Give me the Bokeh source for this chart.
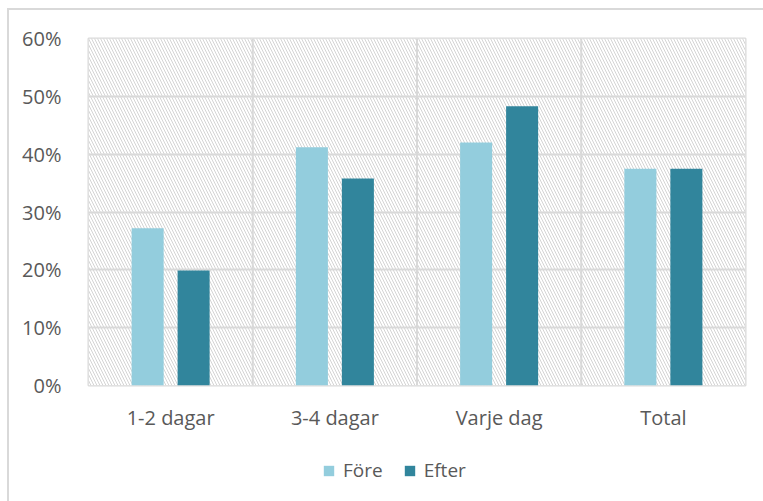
from bokeh.plotting import figure
from bokeh.layouts import column
from bokeh.models import (FactorRange, Range1d, NumeralTickFormatter, FixedTicker,
                          BoxAnnotation, Span, Legend, LegendItem, ColumnDataSource)
from bokeh.transform import dodge
from bokeh.embed import file_html
from bokeh.resources import INLINE

# Andel per kategori, före och efter
categories = ["1-2 dagar", "3-4 dagar", "Varje dag", "Total"]
fore = [0.272, 0.412, 0.420, 0.375]
efter = [0.199, 0.358, 0.483, 0.375]
series_names = ["Före", "Efter"]
y_ticks = [0.0, 0.1, 0.2, 0.3, 0.4, 0.5, 0.6]

FORE_COLOR = "#93CDDD"
EFTER_COLOR = "#31859C"
GRID = "#d9d9d9"
TEXT = "#595959"
FONT = "Open Sans"

source = ColumnDataSource(dict(cat=categories, fore=fore, efter=efter))

p = figure(
    x_range=FactorRange(*categories, range_padding=0, factor_padding=0),
    y_range=Range1d(0, 0.6),
    width=754, height=435,
    output_backend="svg", toolbar_location=None,
    min_border_left=79, min_border_top=28, min_border_right=18, min_border_bottom=60,
)

# hatched plot area background
p.add_layout(BoxAnnotation(fill_color="white", fill_alpha=1.0, line_color=None,
                           hatch_pattern="left_diagonal_line", hatch_color="#d4d4d4",
                           hatch_scale=6, hatch_weight=1.0, level="image"))

# category separators
for i in range(1, len(categories)):
    p.add_layout(Span(location=i, dimension="height", line_color=GRID,
                      line_width=2, level="underlay"))

w = 0.195
offsets = (-0.14, 0.14)
r1 = p.vbar(x=dodge("cat", offsets[0], range=p.x_range), top="fore", width=w,
            source=source, fill_color=FORE_COLOR, line_color=None)
r2 = p.vbar(x=dodge("cat", offsets[1], range=p.x_range), top="efter", width=w,
            source=source, fill_color=EFTER_COLOR, line_color=None)

p.outline_line_color = GRID
p.outline_line_width = 2
p.xgrid.grid_line_color = None
p.ygrid.grid_line_color = GRID
p.ygrid.grid_line_width = 2
p.ygrid.ticker = FixedTicker(ticks=y_ticks)

p.yaxis.ticker = FixedTicker(ticks=y_ticks)
p.yaxis.formatter = NumeralTickFormatter(format="0%")
for ax in (p.xaxis[0], p.yaxis[0]):
    ax.axis_line_color = None
    ax.major_tick_line_color = None
    ax.minor_tick_line_color = None
    ax.major_label_text_color = TEXT
    ax.major_label_text_font = FONT
    ax.major_label_text_font_size = "20px"
p.yaxis.major_label_standoff = 21
p.xaxis.major_label_standoff = 12

# legend strip underneath the chart; its series glyphs sit outside the
# strip's visible y range so only the legend swatches show
lf = figure(width=754, height=56, output_backend="svg", toolbar_location=None,
            x_range=p.x_range, y_range=Range1d(1, 2),
            x_axis_location=None, y_axis_location=None,
            min_border_left=0, min_border_right=0, min_border_top=0, min_border_bottom=0,
            outline_line_color=None)
lf.grid.visible = False
k1 = lf.vbar(x=dodge("cat", offsets[0], range=p.x_range), top="fore", width=w,
             source=source, fill_color=FORE_COLOR, line_color=None)
k2 = lf.vbar(x=dodge("cat", offsets[1], range=p.x_range), top="efter", width=w,
             source=source, fill_color=EFTER_COLOR, line_color=None)
legend = Legend(items=[LegendItem(label=series_names[0], renderers=[k1]),
                       LegendItem(label=series_names[1], renderers=[k2])],
                orientation="horizontal", location=(234, 18),
                label_text_font=FONT, label_text_font_size="19px",
                label_text_color=TEXT, glyph_width=13, glyph_height=13,
                spacing=20, label_standoff=8, border_line_color=None,
                background_fill_alpha=0, margin=0, padding=0)
lf.add_layout(legend)

layout = column(p, lf, spacing=0, margin=(8, 0, 0, 7),
                styles={"border-top": f"2px solid {GRID}", "border-left": f"2px solid {GRID}"})

open("out.html", "w").write(file_html(layout, INLINE))
